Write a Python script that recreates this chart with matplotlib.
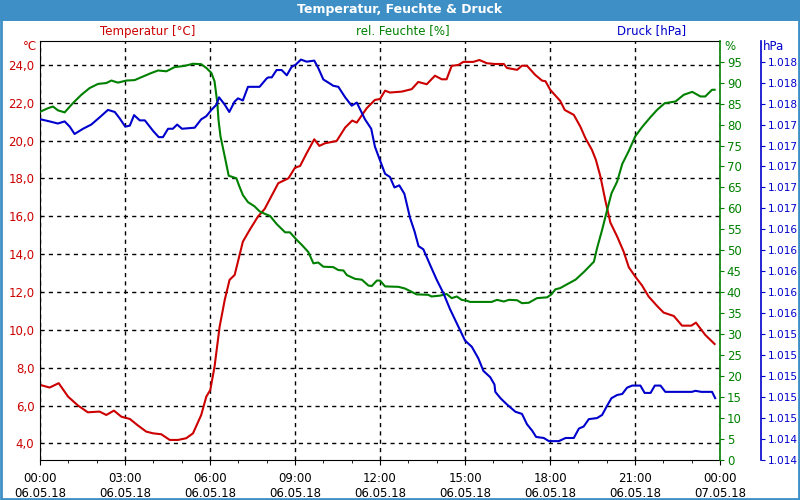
import matplotlib
matplotlib.use('Agg')
import matplotlib.pyplot as plt
from matplotlib.patches import Rectangle
from matplotlib.ticker import FuncFormatter, MultipleLocator
import numpy as np

# Temperatur [°C]
temp_h = [0.0, 0.34, 0.66, 0.99, 1.34, 1.69, 2.1, 2.34, 2.61, 2.87, 3.17, 3.46, 3.75, 3.99,
          4.28, 4.58, 4.87, 5.16, 5.4, 5.69, 5.87, 6.01, 6.16, 6.34, 6.52, 6.69, 6.87, 7.16,
          7.4, 7.69, 7.93, 8.41, 8.77, 9.0, 9.18, 9.41, 9.68, 9.86, 10.06, 10.47, 10.77, 11.02,
          11.18, 11.53, 11.82, 12.0, 12.18, 12.35, 12.77, 13.12, 13.35, 13.65, 13.94, 14.18,
          14.35, 14.53, 14.77, 14.94, 15.29, 15.51, 15.77, 16.04, 16.37, 16.48, 16.84, 17.01,
          17.19, 17.48, 17.72, 17.84, 18.01, 18.36, 18.52, 18.84, 19.07, 19.25, 19.48, 19.62,
          19.78, 19.95, 20.13, 20.37, 20.6, 20.78, 21.01, 21.25, 21.48, 21.78, 22.01, 22.37,
          22.66, 22.99, 23.15, 23.48, 23.81]
temp_c = [7.09, 6.95, 7.18, 6.47, 6.0, 5.64, 5.68, 5.5, 5.73, 5.41, 5.29, 4.94, 4.62, 4.53,
          4.48, 4.18, 4.18, 4.27, 4.53, 5.5, 6.47, 6.82, 8.05, 10.17, 11.58, 12.64, 12.9, 14.66,
          15.28, 15.98, 16.39, 17.75, 18.01, 18.57, 18.66, 19.33, 20.07, 19.72, 19.86, 19.98,
          20.69, 21.06, 20.95, 21.71, 22.15, 22.2, 22.64, 22.54, 22.59, 22.72, 23.1, 22.98,
          23.43, 23.24, 23.24, 23.95, 24.0, 24.16, 24.16, 24.26, 24.09, 24.05, 24.05, 23.84,
          23.74, 23.96, 23.95, 23.47, 23.17, 23.14, 22.68, 22.1, 21.62, 21.36, 20.74, 20.13,
          19.51, 18.98, 18.1, 16.86, 15.67, 14.93, 14.13, 13.31, 12.81, 12.34, 11.76, 11.26,
          10.91, 10.73, 10.22, 10.22, 10.38, 9.73, 9.25]

# rel. Feuchte [%]
hum_h = [0.02, 0.28, 0.46, 0.63, 0.87, 1.16, 1.46, 1.75, 2.05, 2.34, 2.52, 2.75, 3.05, 3.34,
         3.58, 3.93, 4.17, 4.46, 4.75, 5.11, 5.4, 5.69, 5.87, 6.05, 6.16, 6.26, 6.3, 6.37,
         6.52, 6.66, 6.93, 7.04, 7.16, 7.34, 7.57, 7.75, 7.94, 8.12, 8.35, 8.65, 8.82, 9.06,
         9.24, 9.47, 9.65, 9.82, 10.0, 10.35, 10.53, 10.71, 10.83, 11.12, 11.36, 11.59, 11.71,
         11.89, 12.0, 12.18, 12.65, 12.88, 13.06, 13.29, 13.7, 13.82, 14.12, 14.35, 14.53,
         14.71, 14.88, 15.06, 15.18, 15.94, 16.13, 16.37, 16.55, 16.84, 17.01, 17.25, 17.54,
         17.9, 18.05, 18.19, 18.36, 18.6, 18.9, 19.19, 19.55, 19.66, 19.84, 20.02, 20.17,
         20.37, 20.55, 20.78, 21.01, 21.25, 21.55, 21.78, 22.05, 22.43, 22.72, 23.02, 23.31,
         23.48, 23.72, 23.81]
hum_pct = [83.1, 83.9, 84.3, 83.4, 82.9, 85.1, 87.1, 88.7, 89.7, 89.9, 90.5, 90.0, 90.5, 90.6,
           91.3, 92.3, 92.9, 92.7, 93.7, 94.0, 94.5, 94.4, 93.5, 92.3, 90.3, 85.1, 81.1, 77.2,
           72.4, 67.8, 67.2, 65.2, 63.2, 61.5, 60.5, 59.3, 58.7, 58.2, 56.3, 54.3, 54.3, 52.5,
           51.3, 49.6, 46.9, 47.1, 46.1, 46.0, 45.3, 45.2, 44.1, 43.2, 43.0, 41.6, 41.5,
           42.8, 42.8, 41.4, 41.3, 40.9, 40.3, 39.5, 39.4, 39.0, 39.2, 39.6, 38.6,
           39.0, 38.2, 38.0, 37.7, 37.7, 38.2, 37.8, 38.2, 38.1, 37.4, 37.5, 38.6,
           38.8, 39.5, 40.7, 41.0, 41.9, 43.0, 44.8, 47.3, 50.5, 54.9, 59.7, 63.6,
           66.4, 70.6, 73.7, 77.2, 79.4, 81.8, 83.5, 85.1, 85.5, 87.1, 87.8, 86.7,
           86.7, 88.3, 88.3]

# Druck [hPa]
pres_h = [0.02, 0.34, 0.63, 0.87, 1.05, 1.22, 1.52, 1.81, 2.11, 2.4, 2.64, 2.81, 3.01, 3.17,
          3.32, 3.52, 3.7, 3.99, 4.19, 4.34, 4.52, 4.69, 4.84, 5.01, 5.46, 5.69, 5.87, 6.05,
          6.23, 6.32, 6.52, 6.68, 6.87, 6.99, 7.16, 7.34, 7.75, 8.0, 8.06, 8.18, 8.35, 8.53,
          8.71, 8.88, 9.02, 9.21, 9.41, 9.68, 9.82, 10.0, 10.18, 10.35, 10.53, 10.77, 11.0,
          11.18, 11.47, 11.69, 11.82, 12.04, 12.18, 12.35, 12.51, 12.68, 12.86, 13.06, 13.22,
          13.36, 13.53, 13.77, 14.0, 14.24, 14.47, 14.77, 15.0, 15.24, 15.47, 15.65, 15.89,
          16.04, 16.07, 16.25, 16.48, 16.78, 17.01, 17.19, 17.37, 17.51, 17.78, 17.96, 18.31,
          18.55, 18.84, 19.02, 19.19, 19.37, 19.66, 19.84, 20.02, 20.17, 20.37, 20.55, 20.72,
          20.9, 21.19, 21.34, 21.55, 21.7, 21.9, 22.07, 23.01, 23.13, 23.34, 23.72, 23.83]
pres_hpa = [1017.45, 1017.43, 1017.41, 1017.43, 1017.38, 1017.31, 1017.36, 1017.40, 1017.47,
            1017.54, 1017.52, 1017.46, 1017.38, 1017.39, 1017.49, 1017.44, 1017.44, 1017.34,
            1017.28, 1017.28, 1017.36, 1017.36, 1017.40, 1017.36, 1017.37, 1017.45, 1017.48,
            1017.54, 1017.59, 1017.66, 1017.59, 1017.52, 1017.62, 1017.65, 1017.63, 1017.76,
            1017.76, 1017.84, 1017.85, 1017.85, 1017.92, 1017.92, 1017.87, 1017.95, 1017.97,
            1018.02, 1018.00, 1018.01, 1017.94, 1017.83, 1017.80, 1017.77, 1017.76, 1017.66,
            1017.58, 1017.61, 1017.45, 1017.36, 1017.19, 1017.03, 1016.93, 1016.90, 1016.80,
            1016.82, 1016.74, 1016.51, 1016.38, 1016.24, 1016.21, 1016.06, 1015.92, 1015.79,
            1015.64, 1015.47, 1015.34, 1015.28, 1015.17, 1015.05, 1014.99, 1014.92, 1014.85,
            1014.79, 1014.73, 1014.66, 1014.64, 1014.54, 1014.48, 1014.42, 1014.41, 1014.38,
            1014.38, 1014.41, 1014.41, 1014.50, 1014.52, 1014.59, 1014.60, 1014.63, 1014.72,
            1014.79, 1014.82, 1014.83, 1014.89, 1014.91, 1014.91, 1014.84, 1014.84, 1014.91,
            1014.91, 1014.85, 1014.85, 1014.86, 1014.85, 1014.85, 1014.79]

hour_ticks = [0, 3, 6, 9, 12, 15, 18, 21, 24]
hour_labels = ['00:00\n06.05.18', '03:00\n06.05.18', '06:00\n06.05.18', '09:00\n06.05.18',
               '12:00\n06.05.18', '15:00\n06.05.18', '18:00\n06.05.18', '21:00\n06.05.18',
               '00:00\n07.05.18']

red = '#CC0000'
green = '#008000'
blue = '#0000CC'
bar = '#3D8FC6'
px = 0.72  # points per pixel at dpi 100

fig = plt.figure(figsize=(8, 5), dpi=100, facecolor='white')

# title bar and frame
fig.patches.append(Rectangle((0, 1 - 21 / 500), 1, 21 / 500, transform=fig.transFigure,
                             facecolor=bar, edgecolor='none', zorder=0))
fig.patches.append(Rectangle((0.001, 0.002), 0.998, 0.996, transform=fig.transFigure,
                             facecolor='none', edgecolor=bar, linewidth=2, zorder=0))
fig.text(0.5, 1 - 10 / 500, 'Temperatur, Feuchte & Druck', color='white', fontsize=9,
         fontweight='bold', ha='center', va='center')

ax = fig.add_axes([40 / 800, 40 / 500, 680 / 800, 419.3 / 500])
ax.plot(temp_h, temp_c, color=red, linewidth=1.5)
ax.set_xlim(0, 24)
ax.set_ylim(3.12, 25.28)
ax.set_yticks(np.arange(4, 24.1, 2))
ax.yaxis.set_major_formatter(FuncFormatter(lambda v, p: f'{v:.1f}'.replace('.', ',')))
ax.tick_params(axis='y', length=0, pad=4, labelcolor=red, labelsize=8.5)
ax.set_xticks(hour_ticks)
ax.set_xticklabels(hour_labels)
ax.xaxis.set_minor_locator(MultipleLocator(1))
ax.tick_params(axis='x', which='major', length=5 * px, labelsize=8.5, pad=5)
ax.tick_params(axis='x', which='minor', length=3 * px)
ax.grid(True, color='black', linestyle=(0, (3, 3)), linewidth=1)
ax.spines['right'].set_visible(False)

ax_h = ax.twinx()
ax_h.plot(hum_h, hum_pct, color=green, linewidth=1.5)
ax_h.set_ylim(0, 100)
ax_h.set_yticks(np.arange(0, 96, 5))
ax_h.tick_params(axis='y', colors=green, length=4 * px, pad=2, labelsize=8.5)
ax_h.spines['right'].set_color(green)
ax_h.spines['right'].set_linewidth(1.2)
for s in ['top', 'left', 'bottom']:
    ax_h.spines[s].set_visible(False)

ax_p = ax.twinx()
ax_p.plot(pres_h, pres_hpa, color=blue, linewidth=1.5)
ax_p.set_ylim(1014.2, 1018.2)
ax_p.set_yticks(np.arange(1014.2, 1018.01, 0.2))
ax_p.yaxis.set_major_formatter(FuncFormatter(lambda v, p: f'{v / 1000:.3f}'))
ax_p.spines['right'].set_position(('outward', 41 * px))
ax_p.spines['right'].set_color(blue)
ax_p.spines['right'].set_linewidth(1.2)
for s in ['top', 'left', 'bottom']:
    ax_p.spines[s].set_visible(False)
ax_p.tick_params(axis='y', colors=blue, length=4 * px, pad=2, labelsize=7.6)

# unit and series labels
fig.text(30 / 800, 1 - 46 / 500, '°C', color=red, fontsize=8.5, ha='center', va='center')
fig.text(730 / 800, 1 - 46 / 500, '%', color=green, fontsize=8.5, ha='center', va='center')
fig.text(773 / 800, 1 - 46 / 500, 'hPa', color=blue, fontsize=8.5, ha='center', va='center')
fig.text(148 / 800, 1 - 31 / 500, 'Temperatur [°C]', color=red, fontsize=8.5, ha='center', va='center')
fig.text(403 / 800, 1 - 31 / 500, 'rel. Feuchte [%]', color=green, fontsize=8.5, ha='center', va='center')
fig.text(652 / 800, 1 - 31 / 500, 'Druck [hPa]', color=blue, fontsize=8.5, ha='center', va='center')

fig.savefig('out.png', dpi=100)
